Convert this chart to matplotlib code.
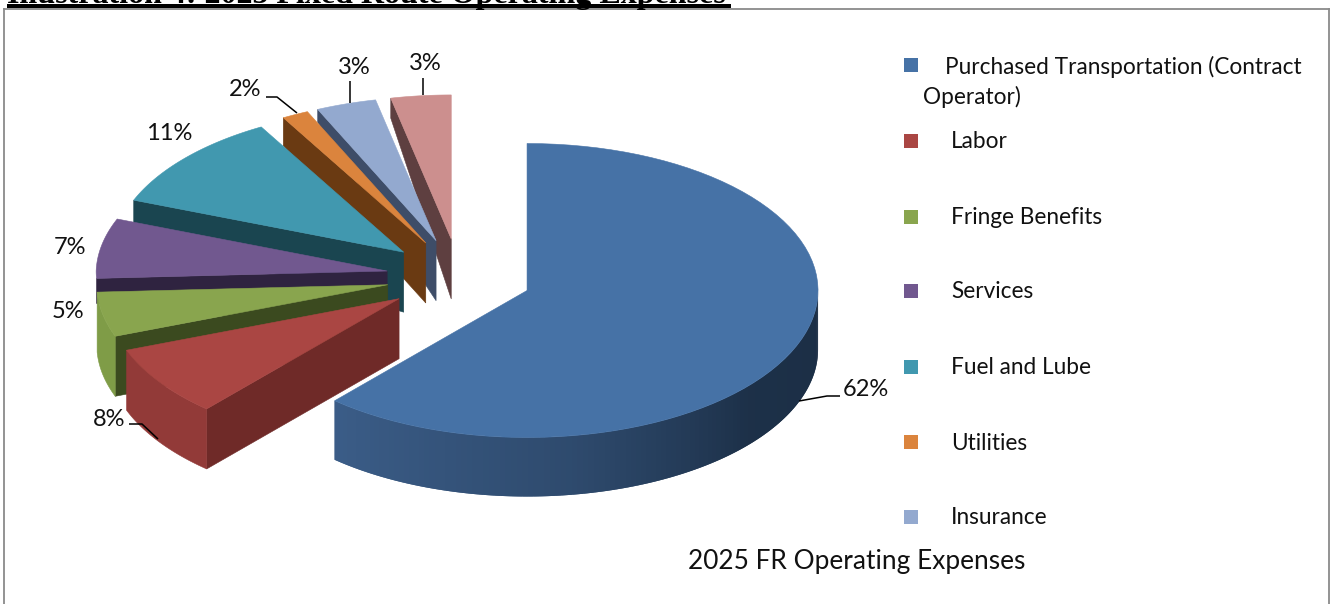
import numpy as np
import matplotlib
matplotlib.use('Agg')
import matplotlib.pyplot as plt
from matplotlib.patches import Polygon, Rectangle
from matplotlib.colors import to_rgb

# 2025 operating expense shares, in percent
expenses = ['Purchased Transportation (Contract Operator)', 'Labor', 'Fringe Benefits', 'Services',
            'Fuel and Lube', 'Utilities', 'Insurance', 'Other']
shares = [61.5, 7.8, 4.9, 6.6, 10.9, 1.5, 3.4, 3.4]
legend_names = ['Labor', 'Fringe Benefits', 'Services', 'Fuel and Lube', 'Utilities', 'Insurance']
chart_title = '2025 FR Operating Expenses'
heading = 'Illustration 4: 2025 Fixed Route Operating Expenses'

top_colors = ['#4672a6', '#aa4643', '#89a54e', '#71588f', '#4198af', '#db843d', '#93a9cf', '#cc8f8e']
cut_colors = ['#1b2e45', '#6f2a28', '#3b4a1f', '#2f2340', '#1a4550', '#6a3a12', '#3e4d68', '#5e3f40']
rim_colors = ['#2f4d72', '#923a38', '#7f9c47', '#5d4876', '#357f94', '#b56c30', '#7a8cab', '#a87674']

# pie layout in pixels
cx, cy = 459, 277
rx, ry = 291, 147
explode_x, explode_y = 0.25, 0.26
depth = 60
# the wall under the cut edge gets shorter towards the back of the pie
cut_depth = [60, 60, 60, 25, 30, 28, 13, 20]
# small slices at the back are drawn a little smaller, a bit of perspective
back_shrink = 0.02

fig = plt.figure(figsize=(13.3, 6.04), dpi=100)
ax = fig.add_axes([0, 0, 1, 1])
ax.set_xlim(0, 1330)
ax.set_ylim(604, 0)
ax.axis('off')

plt.rcParams['font.family'] = ['Lato', 'DejaVu Sans']


def arc(center, t0, t1, n=80, shrink=0.0):
    t = np.radians(np.linspace(t0, t1, n))
    s = 1 - shrink * np.clip(np.cos(t), 0, 1)
    return np.column_stack([center[0] + rx * s * np.sin(t), center[1] - ry * s * np.cos(t)])


ends = np.cumsum(shares) / np.sum(shares) * 360
starts = np.r_[0, ends[:-1]]

# draw from the back slice to the front one so the nearer ones cover the others
for i in range(len(shares) - 1, -1, -1):
    t0, t1 = starts[i], ends[i]
    mid = np.radians((t0 + t1) / 2)
    apex = (cx + explode_x * rx * np.sin(mid), cy - explode_y * ry * np.cos(mid))
    edge = arc(apex, t0, t1, shrink=0.0 if i == 0 else back_shrink)

    # flat wall below the cut edge, only seen on the left hand slices
    if i > 0:
        p = edge[0]
        ax.add_patch(Polygon([apex, p, (p[0], p[1] + cut_depth[i]), (apex[0], apex[1] + depth)],
                             fc=cut_colors[i], ec=cut_colors[i], lw=0.4, zorder=2))

    # curved outer wall, only the front half of the rim faces the viewer
    if i <= 2:
        lo, hi = max(t0, 90), min(t1, 270)
        if i == 0:
            # the big slice darkens towards the right, strips overlap so no seams show
            rim_t = np.linspace(lo, hi, 121)
            c0 = np.array(to_rgb('#1b2e45'))
            c1 = np.array(to_rgb('#3b5d88'))
            for j in range(120):
                seg = arc(apex, rim_t[j], rim_t[min(j + 2, 120)], 6)
                frac = np.interp(rim_t[j], [90, 130, 170, 222], [0, 0.05, 0.6, 1])
                ax.add_patch(Polygon(np.vstack([seg, seg[::-1] + [0, depth - 1]]),
                                     fc=c0 + (c1 - c0) * frac, ec='none', zorder=2))
        else:
            seg = arc(apex, lo, hi, 40)
            ax.add_patch(Polygon(np.vstack([seg, seg[::-1] + [0, depth]]),
                                 fc=rim_colors[i], ec=rim_colors[i], lw=0.4, zorder=2))

    ax.add_patch(Polygon(np.vstack([[apex], edge]), fc=top_colors[i], ec=top_colors[i], lw=0.4, zorder=2))

# percent labels with their leader lines
label_xy = [(866, 390), (109, 419), (68, 311), (70, 247), (169, 134), (245, 90), (354, 67), (425, 63)]
for v, (lx, ly) in zip(shares, label_xy):
    ax.text(lx, ly, f'{v:.0f}%', fontsize=17, color='#111111', ha='center', va='center', zorder=4)

leaders = [[(799, 401), (827, 396), (840, 396)],
           [(129, 424), (142, 424), (158, 439)],
           [(266, 97), (277, 97), (297, 113)],
           [(350, 81), (350, 103)],
           [(423, 78), (423, 95)]]
for pts in leaders:
    ax.plot(*zip(*pts), color='black', lw=1.1, zorder=3, solid_capstyle='butt')

# legend, typed out by hand since the first entry wraps with a hanging indent
leg_x = 904
ax.add_patch(Rectangle((leg_x, 58), 14, 14, fc=top_colors[0], ec='none'))
ax.text(945, 67, 'Purchased Transportation (Contract', fontsize=16.3, color='#111111', va='center')
ax.text(923, 97, 'Operator)', fontsize=16.3, color='#111111', va='center')
leg_y = [141, 217, 291, 367, 442, 517]
for name, y, col in zip(legend_names, leg_y, top_colors[1:]):
    ax.add_patch(Rectangle((leg_x, y - 7), 14, 14, fc=col, ec='none'))
    ax.text(951, y + 1, name, fontsize=16.3, color='#111111', va='center')

ax.text(688, 561, chart_title, fontsize=18.9, color='#111111', va='center')

# frame around the chart, it runs off the bottom of the page
ax.plot([4, 4], [604, 8.5], color='#8a8a8a', lw=1.3)
ax.plot([4, 1328.5], [8.5, 8.5], color='#8a8a8a', lw=1.3)
ax.plot([1328.5, 1328.5], [8.5, 604], color='#8a8a8a', lw=1.3)

# document heading above the chart, only the bottom of it is on the page
ax.text(7, 3.5, heading, fontsize=23, fontweight='bold', va='baseline', color='black',
        family=['Liberation Serif', 'DejaVu Serif'], zorder=5)
ax.add_patch(Rectangle((7, 4), 724, 4, fc='black', ec='none', zorder=5))

fig.savefig('out.png', dpi=100)
